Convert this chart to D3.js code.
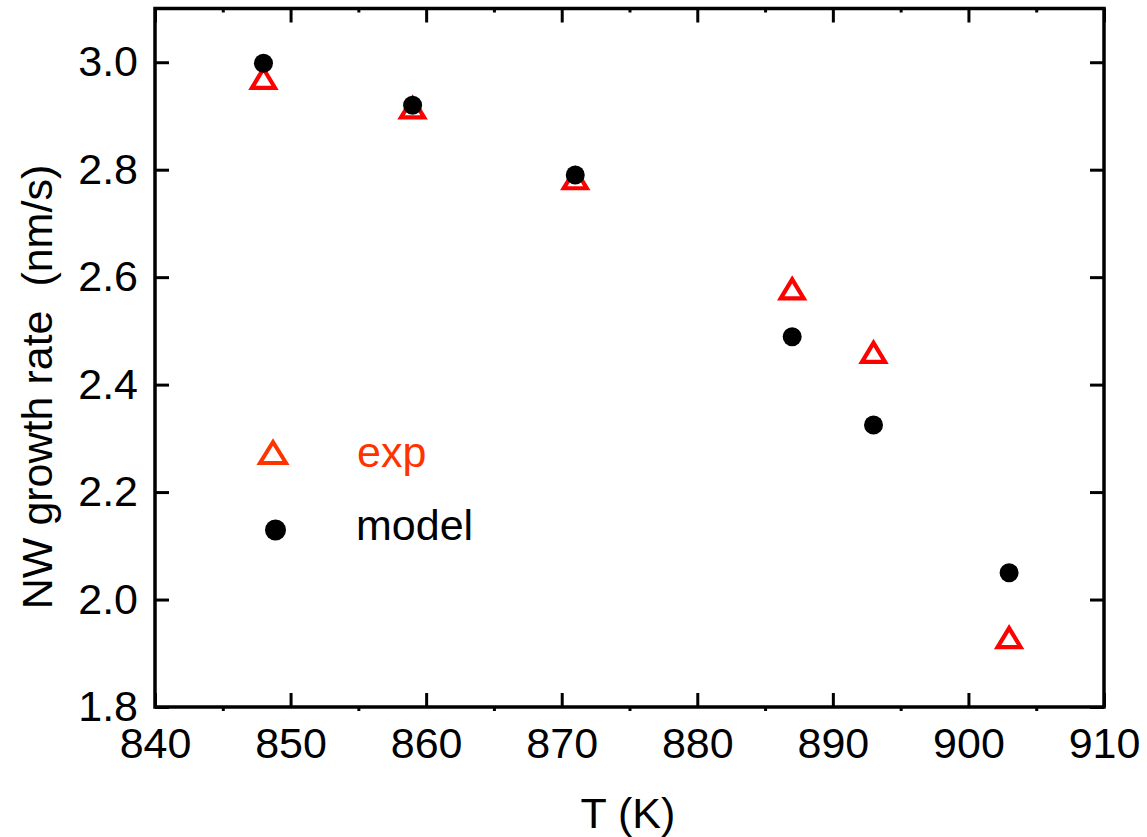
<!DOCTYPE html>
<html>
<head>
<meta charset="utf-8">
<script src="https://cdn.jsdelivr.net/npm/d3@7"></script>
<style>
  body { margin: 0; background: #fff; }
  text { font-family: "Liberation Sans", Arial, sans-serif; }
</style>
</head>
<body>
<svg width="1147" height="837"></svg>
<script>
// data
var temps = [848, 859, 871, 887, 893, 903];
var expRate = [2.972, 2.917, 2.785, 2.58, 2.462, 1.931];
var modelRate = [2.998, 2.920, 2.790, 2.489, 2.325, 2.05];
var xTicks = [840, 850, 860, 870, 880, 890, 900, 910];
var yTicks = [1.8, 2.0, 2.2, 2.4, 2.6, 2.8, 3.0];
var xMinor = [845, 855, 865, 875, 885, 895, 905];
var yMinor = [1.9, 2.1, 2.3, 2.5, 2.7, 2.9];

// plot frame (note: "top" would clash with window.top)
var padL = 155, padR = 1104, padT = 8.5, padB = 707;

var svg = d3.select('svg');

var x = d3.scaleLinear().domain([840, 910]).range([padL, padR]);
var y = d3.scaleLinear().domain([1.8, 3.1]).range([padB, padT]);

// triangle centred on its outer bounding box (miter joins)
function tri(hw, h, t) {
    return 'M0,' + t + 'L' + hw + ',' + (t + h) + 'L' + (-hw) + ',' + (t + h) + 'Z';
}

// axes (ticks pointing inward)
svg.append('g')
    .attr('transform', 'translate(0,' + padB + ')')
    .call(d3.axisBottom(x).tickValues(xTicks).tickSize(-14).tickPadding(20).tickFormat(d3.format('d')));
svg.append('g')
    .attr('transform', 'translate(' + padL + ',0)')
    .call(d3.axisLeft(y).tickValues(yTicks).tickSize(-14).tickPadding(17).tickFormat(d3.format('.1f')));
svg.append('g')
    .attr('transform', 'translate(0,' + padT + ')')
    .call(d3.axisTop(x).tickValues(xTicks).tickSize(-14).tickFormat(''));
svg.append('g')
    .attr('transform', 'translate(' + padR + ',0)')
    .call(d3.axisRight(y).tickValues(yTicks).tickSize(-14).tickFormat(''));

// minor ticks (x only clearly visible, y ones are tiny)
svg.append('g').attr('class', 'minor').attr('transform', 'translate(0,' + padB + ')')
    .call(d3.axisBottom(x).tickValues(xMinor).tickSize(4).tickFormat(''));
svg.append('g').attr('class', 'minor').attr('transform', 'translate(0,' + padT + ')')
    .call(d3.axisTop(x).tickValues(xMinor).tickSize(-4).tickFormat(''));
svg.append('g').attr('class', 'minor ymin').attr('transform', 'translate(' + padL + ',0)')
    .call(d3.axisLeft(y).tickValues(yMinor).tickSize(-1).tickFormat(''));
svg.append('g').attr('class', 'minor ymin').attr('transform', 'translate(' + padR + ',0)')
    .call(d3.axisRight(y).tickValues(yMinor).tickSize(-1).tickFormat(''));

svg.selectAll('.domain').remove();
svg.selectAll('.tick line').attr('stroke', '#000').attr('stroke-width', 3);
svg.selectAll('.ymin .tick line').attr('stroke', '#888').attr('stroke-width', 2);
svg.selectAll('.tick text').attr('font-size', 43).attr('fill', '#000')
    .style('font-family', '"Liberation Sans", Arial, sans-serif');

// frame
svg.append('rect')
    .attr('x', padL).attr('y', padT)
    .attr('width', padR - padL).attr('height', padB - padT)
    .attr('fill', 'none').attr('stroke', '#000').attr('stroke-width', 3.5);

// axis titles
svg.append('text')
    .attr('x', 628).attr('y', 828)
    .attr('text-anchor', 'middle').attr('font-size', 43)
    .text('T (K)');
svg.append('text')
    .attr('transform', 'translate(52,387) rotate(-90)')
    .attr('text-anchor', 'middle').attr('font-size', 43)
    .text('NW growth rate\u00a0\u00a0(nm/s)');

// exp triangles
svg.append('g').selectAll('path')
    .data(temps)
    .enter()
    .append('path')
    .attr('transform', function(d, i) { return 'translate(' + x(d) + ',' + y(expRate[i]) + ')'; })
    .attr('d', tri(11.5, 19, -8.5))
    .attr('fill', 'none')
    .attr('stroke', '#ff0000')
    .attr('stroke-width', 4.2);

// model circles
svg.append('g').selectAll('circle')
    .data(temps)
    .enter()
    .append('circle')
    .attr('cx', function(d) { return x(d); })
    .attr('cy', function(d, i) { return y(modelRate[i]); })
    .attr('r', 9.5)
    .attr('fill', '#000');

// legend
var lg = svg.append('g');
lg.append('path')
    .attr('transform', 'translate(273,451.5)')
    .attr('d', tri(13, 21, -9.5))
    .attr('fill', 'none').attr('stroke', '#ff3300').attr('stroke-width', 4);
lg.append('text').attr('x', 357).attr('y', 467)
    .attr('font-size', 43).attr('fill', '#ff3300').text('exp');
lg.append('circle').attr('cx', 275.5).attr('cy', 530).attr('r', 10.5).attr('fill', '#000');
lg.append('text').attr('x', 356).attr('y', 540)
    .attr('font-size', 43).attr('fill', '#000').text('model');
</script>
</body>
</html>
